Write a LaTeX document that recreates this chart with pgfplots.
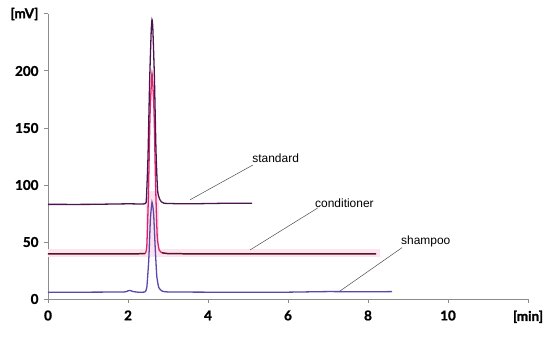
\documentclass[border=0pt]{standalone}
\usepackage{pgfplots}
\pgfplotsset{compat=1.18}
\usepackage{fontspec}
\setmainfont{Liberation Sans}
\newfontfamily\tickfont[BoldFeatures={FakeBold=1.5}]{Lato}
\definecolor{stdc}{HTML}{4A1450}
\definecolor{condc}{HTML}{5E1022}
\definecolor{peakc}{HTML}{E0206A}
\definecolor{shamc}{HTML}{5A48A8}
\definecolor{bandc}{HTML}{FBE3F0}
\definecolor{axc}{HTML}{8C8C8C}
\begin{document}
\begin{tikzpicture}
\useasboundingbox (-48bp,-39bp) rectangle (502bp,299bp);
\begin{axis}[
  scale only axis, width=480bp, height=285bp,
  xmin=0, xmax=12, ymin=0, ymax=250,
  axis lines*=left, axis line style={axc, line width=1pt, -},
  xtick={0,2,4,6,8,10,12}, xticklabels={0,2,4,6,8,10,{[min]}},
  ytick={0,50,100,150,200,250}, yticklabels={0,50,100,150,200,{[mV]}},
  tick style={axc, line width=1pt},
  tick align=outside, major tick length=4bp,
  tick label style={font=\tickfont\bfseries\fontsize{13.5}{15}\selectfont},
  xticklabel style={yshift=-4bp},
  yticklabel style={xshift=-2bp},
  clip=false,
]
% pink band
\addplot[draw=none, fill=bandc] coordinates {(0,36.5) (8.3,36.5) (8.3,44) (0,44)} -- cycle;
\addplot[draw=none, fill=bandc] coordinates {(2.45,44) (2.78,44) (2.78,95) (2.45,95)} -- cycle;
% shampoo
\addplot[shamc, line width=1.3pt, smooth, tension=0.3] coordinates {
(0,6) (1,6) (1.9,6.2) (2.0,7.2) (2.05,7.5) (2.12,6.6) (2.25,6) (2.42,6.2) (2.47,10) (2.52,35) (2.56,70) (2.6,85) (2.64,75) (2.68,45) (2.72,20) (2.77,10) (2.85,7) (3.0,6.2) (4,6) (5,6) (6,6) (7,6.5) (8,6.3) (8.6,6.5)};
% conditioner
\addplot[color=condc, line width=1.5pt] coordinates {
(0,39.5) (1,39.5) (2,39.5) (2.43,39.8)};
\addplot[color=peakc, line width=1.3pt, smooth, tension=0.3] coordinates {
(2.43,39.8) (2.47,46) (2.51,90) (2.55,160) (2.6,198) (2.65,165) (2.69,100) (2.73,55) (2.78,43) (2.85,40.5)};
\addplot[color=condc, line width=1.5pt] coordinates {
(2.85,40.5) (3,39.8) (4,39.5) (5,39.5) (6,39.5) (7,39.5) (8.2,39.5)};
% standard
\addplot[stdc, line width=1.3pt, smooth, tension=0.3] coordinates {
(0,83) (1,83) (2,83.5) (2.42,83.5) (2.46,88) (2.5,125) (2.54,190) (2.58,235) (2.6,245) (2.62,238) (2.66,195) (2.7,130) (2.74,95) (2.8,87) (2.9,84) (3.5,83.5) (4.5,84) (5.1,84)};
% annotations
\draw[black!70, line width=0.5pt] (axis cs:3.55,87) -- (axis cs:5.12,117.5);
\node[anchor=south west, inner sep=1pt, font=\fontsize{12}{14}\selectfont] at (axis cs:5.08,119) {standard};
\draw[black!70, line width=0.5pt] (axis cs:5.05,43) -- (axis cs:6.75,80);
\node[anchor=south west, inner sep=1pt, font=\fontsize{12}{14}\selectfont] at (axis cs:6.65,79.5) {conditioner};
\draw[black!70, line width=0.5pt] (axis cs:7.3,7) -- (axis cs:8.85,45);
\node[anchor=south west, inner sep=1pt, font=\fontsize{12}{14}\selectfont] at (axis cs:8.8,44.5) {shampoo};
\end{axis}
\end{tikzpicture}
\end{document}
